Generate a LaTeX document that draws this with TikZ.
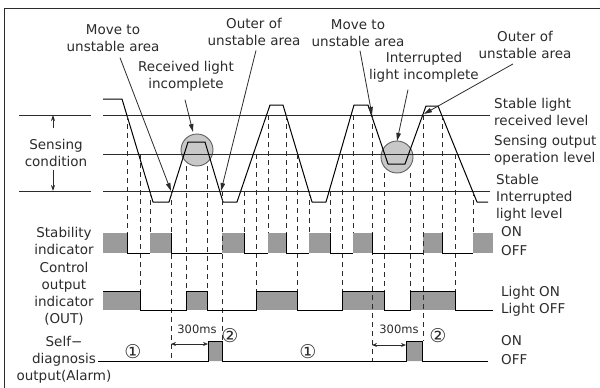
\documentclass[tikz,border=0pt]{standalone}
\usepackage{fontspec}
\setmainfont{DejaVu Sans}
\usetikzlibrary{arrows.meta}
\definecolor{sig}{HTML}{9B9B9B}
\definecolor{ring}{HTML}{C8C8C8}
\definecolor{ink}{HTML}{2B2B2B}

\begin{document}
\begin{tikzpicture}[x=1pt,y=-1pt,
    font=\fontsize{13.5}{17}\selectfont,
    txt/.style={align=center,inner sep=0pt,text=ink},
    lft/.style={align=left,inner sep=0pt,anchor=west,text=ink},
    num/.style={inner sep=0pt,text=ink,font=\fontsize{19}{19}\selectfont},
    lvl/.style={draw=ink,line width=0.8pt},
    wave/.style={draw=black,line width=1pt,line join=round},
    guide/.style={draw=ink,line width=0.7pt,dash pattern=on 5pt off 4pt},
    sigline/.style={draw=black,line width=1pt},
    note/.style={draw=ink,line width=0.8pt,-{Triangle[length=8pt,width=4.5pt]}},
    dim/.style={draw=ink,line width=0.8pt,-{Stealth[length=6pt,width=4pt]}},
    span/.style={draw=ink,line width=0.8pt,{Stealth[length=5pt,width=4pt]}-{Stealth[length=5pt,width=4pt]}}]

    \useasboundingbox (0,0) rectangle (600,388);
    \draw[ink,line width=1.5pt] (4.5,388) -- (4.5,8.5) -- (600,8.5);

    % unstable spots
    \filldraw[fill=ring,draw=ink!75,line width=0.9pt] (197,150) circle (16) (397,157) circle (16);

    % levels
    \draw[lvl] (19,115) -- (91,115) (19,191) -- (91,191);
    \draw[lvl] (103,115) -- (490,115) (103,154) -- (490,154) (103,191) -- (490,191);

    % received light
    \draw[wave] (103,99) -- (122,99) -- (153,202) -- (169,202) -- (188,142) -- (205,142)
      -- (223,202) -- (237,202) -- (270,105) -- (283,105) -- (312,202) -- (326,202)
      -- (354,105) -- (368,105) -- (388,164) -- (405,164) -- (426,106) -- (438,106)
      -- (477,202) -- (488,202);

    \draw[dim] (53,128) -- (53,115);
    \draw[dim] (53,170) -- (53,191);

    % signal fills
    \foreach \a/\b in {103/127,150/171,222/244,268/286,309/330,353/372,423/442,473/493}
      \fill[sig] (\a,233) rectangle (\b,253);
    \foreach \a/\b in {103/140,186/207,256/297,342/384,410/455}
      \fill[sig] (\a,291) rectangle (\b,310);
    \fill[sig] (208,341) rectangle (222,361) (406,341) rectangle (422,361);

    % guides
    \foreach \x/\a/\b in {127/115/233,150/191/233,244/191/233,268/115/233,286/115/233,
        309/191/233,330/191/233,353/115/233,442/115/233,473/191/233,
        140/154/291,186/166/291,207/166/291,256/154/291,297/154/291,342/154/291,
        384/173/291,410/173/291,455/154/291,
        171/191/361,222/191/341,372/115/361,423/115/341}
      \draw[guide] (\x,\a) -- (\x,\b);

    % signal lines
    \foreach \a/\b in {127/150,171/222,244/268,286/309,330/353,372/423,442/473}
      \draw[sigline] (\a,233) |- (\b,253);
    \draw[sigline] (103,291) -| (140,310) -| (186,291) -| (207,310) -| (256,291)
      -| (297,310) -| (342,291) -| (384,310) -| (410,291) -| (455,310) -- (493,310);
    \draw[sigline] (98,361) -| (208,341) -| (222,361) -| (406,341) -| (422,361) -- (488,361);

    \coordinate (d1) at (171,344);
    \coordinate (p1) at (208,344);
    \coordinate (d2) at (372,345);
    \coordinate (p2) at (406,345);
    \draw[span] (d1) -- (p1);
    \draw[span] (d2) -- (p2);
    \node[txt,font=\fontsize{11.5}{14}\selectfont] (ms1) at (197,329) {300ms};
    \node[txt,font=\fontsize{11.5}{14}\selectfont] (ms2) at (399,329) {300ms};
    \node[num] (c1) at (133,352) {①};
    \node[num] (c2) at (230,336) {②};
    \node[num] (c3) at (308,352) {①};
    \node[num] (c4) at (438,336) {②};

    % notes
    \node[txt] (n1) at (113,38) {Move to\\unstable area};
    \node[txt] (n2) at (254,31.5) {Outer of\\unstable area};
    \node[txt] (n3) at (186,76.5) {Received light\\incomplete};
    \node[txt] (n4) at (358,33) {Move to\\unstable area};
    \node[txt] (n5) at (424,67.5) {Interrupted\\light incomplete};
    \node[txt] (n6) at (525,45) {Outer of\\unstable area};
    \coordinate (t1) at (171,191);
    \coordinate (t2) at (221,191);
    \coordinate (t3) at (193,132);
    \coordinate (t4) at (372,115);
    \coordinate (t5) at (397,141);
    \coordinate (t6) at (424,114);
    \draw[note] ([shift={(7,6)}]n1.south) -- (t1);
    \draw[note] ([shift={(2,5)}]n2.south) -- (t2);
    \draw[note] ([shift={(-1,8)}]n3.south) -- (t3);
    \draw[note] ([shift={(2,4)}]n4.south) -- (t4);
    \draw[note] ([shift={(-16,7)}]n5.south) -- (t5);
    \draw[note] ([shift={(-12,5)}]n6.south) -- (t6);

    % left labels
    \node[txt] (sense) at (56,152.5) {Sensing\\condition};
    \node[txt] (stab) at (64,241) {Stability\\indicator};
    \node[txt] (ctrl) at (64,294) {Control\\output\\indicator\\(OUT)};
    \node[txt] (alarm) at (64,360) {Self−\\diagnosis\\output(Alarm)};

    % right labels
    \node[lft] (r1) at (494,112) {Stable light\\received level};
    \node[lft] (r2) at (494,150.5) {Sensing output\\operation level};
    \node[lft] (r3) at (496,197.5) {Stable\\Interrupted\\light level};
    \node[lft] (on1) at (501,232) {ON};
    \node[lft] (off1) at (501,251) {OFF};
    \node[lft] (on2) at (501,293) {Light ON};
    \node[lft] (off2) at (501,310) {Light OFF};
    \node[lft] (on3) at (501,341) {ON};
    \node[lft] (off3) at (501,360) {OFF};
  \end{tikzpicture}
\end{document}
